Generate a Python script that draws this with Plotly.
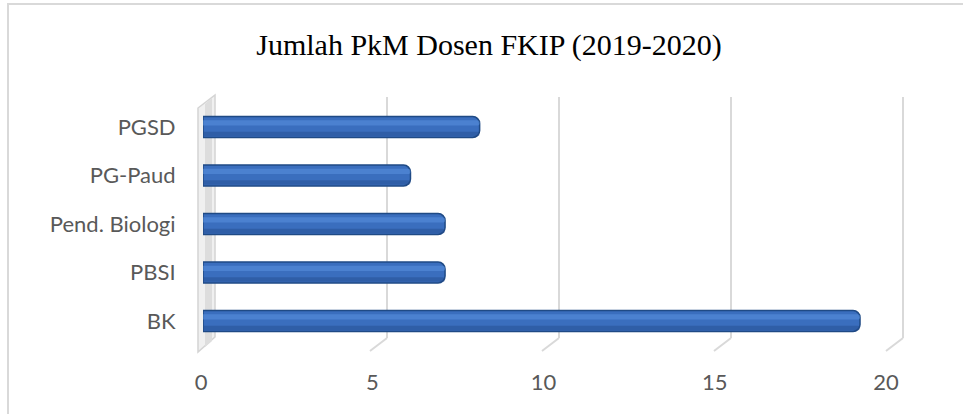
import plotly.graph_objects as go

categories = ["PGSD", "PG-Paud", "Pend. Biologi", "PBSI", "BK"]
values = [8, 6, 7, 7, 19]
x_ticks = [0, 5, 10, 15, 20]
title_text = "Jumlah PkM Dosen FKIP (2019-2020)"

W, H = 963, 414
def px(x):
    return x / W
def py(y):
    return (H - y) / H

fig = go.Figure()

# invisible anchors for helper axes (grid: x/y, tick labels: x2/y2)
fig.add_trace(go.Scatter(x=[0, 20], y=[0, 1], mode="markers", marker=dict(opacity=0),
                         xaxis="x", yaxis="y", hoverinfo="skip", showlegend=False))
fig.add_trace(go.Scatter(x=[0, 20], y=[0, 1], mode="markers", marker=dict(opacity=0),
                         xaxis="x2", yaxis="y2", hoverinfo="skip", showlegend=False))

# main bar body
fig.add_trace(go.Bar(
    y=categories, x=values, orientation="h", width=0.43,
    marker=dict(color="#3A6EBE", line=dict(color="#1F4A85", width=1.5)),
    xaxis="x3", yaxis="y3", hoverinfo="x+y", showlegend=False,
))
# highlight band (cylinder shading)
fig.add_trace(go.Bar(
    y=categories, x=values, orientation="h", width=0.11, offset=-0.14,
    marker=dict(color="rgba(90,145,222,0.55)", line=dict(width=0)),
    xaxis="x3", yaxis="y3", hoverinfo="skip", showlegend=False,
))
# darker lower band
fig.add_trace(go.Bar(
    y=categories, x=values, orientation="h", width=0.09, offset=0.10,
    marker=dict(color="rgba(35,75,140,0.45)", line=dict(width=0)),
    xaxis="x3", yaxis="y3", hoverinfo="skip", showlegend=False,
))

label_font = dict(family="Lato, Open Sans, sans-serif", size=22, color="#595959")

shapes = []
# chart border
shapes.append(dict(type="rect", xref="paper", yref="paper",
                   x0=px(8), x1=1.02, y0=-0.02, y1=py(4),
                   line=dict(color="#D9D9D9", width=2), fillcolor="rgba(0,0,0,0)", layer="below"))
# left 3D wall
shapes.append(dict(type="path", xref="paper", yref="paper",
                   path=f"M {px(198)} {py(108)} L {px(198)} {py(352)} L {px(215)} {py(337)} L {px(215)} {py(95)} Z",
                   fillcolor="#F0F0F0", line=dict(color="#D4D4D4", width=1.5), layer="below"))
shapes.append(dict(type="path", xref="paper", yref="paper",
                   path=f"M {px(205)} {py(104)} L {px(205)} {py(347)} L {px(212)} {py(341)} L {px(212)} {py(98)} Z",
                   fillcolor="#DDDDDD", line=dict(width=0), layer="below"))
# gridline feet (3D floor)
for t in x_ticks[1:]:
    shapes.append(dict(type="line", xref="x", yref="paper", xsizemode="pixel", xanchor=t,
                       x0=0, x1=-17, y0=py(338), y1=py(351),
                       line=dict(color="#D9D9D9", width=2), layer="below"))

fig.update_layout(
    width=W, height=H,
    margin=dict(l=0, r=0, t=0, b=0, autoexpand=False),
    paper_bgcolor="white", plot_bgcolor="rgba(0,0,0,0)",
    barmode="overlay", barcornerradius=7,
    title=dict(text=title_text, x=px(489), y=py(44), xanchor="center", yanchor="middle",
               font=dict(family="Liberation Serif, Times New Roman, serif", size=30, color="#000000")),
    # back-wall gridlines
    xaxis=dict(domain=[px(215), px(920.2)], range=[0, 20.5], tickvals=x_ticks, showgrid=True,
               gridcolor="#D9D9D9", gridwidth=2, zeroline=False, showticklabels=False,
               showline=False, anchor="y", automargin=False),
    yaxis=dict(domain=[py(338), py(97)], range=[0, 1], visible=False, anchor="x", automargin=False),
    # value tick labels
    xaxis2=dict(domain=[px(201), px(886)], range=[0, 20], tickvals=x_ticks, showgrid=False,
                zeroline=False, showline=False, ticks="outside", ticklen=11,
                tickcolor="rgba(0,0,0,0)", tickfont=label_font, anchor="y2", automargin=False),
    yaxis2=dict(domain=[py(352), py(97)], range=[0, 1], visible=False, anchor="x2", automargin=False),
    # bars + category labels
    xaxis3=dict(domain=[px(203), px(894.6)], range=[0, 20], showgrid=False, zeroline=False,
                showticklabels=False, showline=False, anchor="y3", automargin=False),
    yaxis3=dict(domain=[py(345.25), py(102.75)], type="category", categoryorder="array",
                categoryarray=categories, autorange=False, range=[4.5, -0.5],
                showgrid=False, zeroline=False, showline=False,
                ticks="outside", ticklen=22, tickcolor="rgba(0,0,0,0)",
                tickfont=label_font, anchor="x3", automargin=False),
    shapes=shapes,
)

fig.write_html("out.html", config={"displayModeBar": False},
               post_script="document.body.style.margin='0';")
